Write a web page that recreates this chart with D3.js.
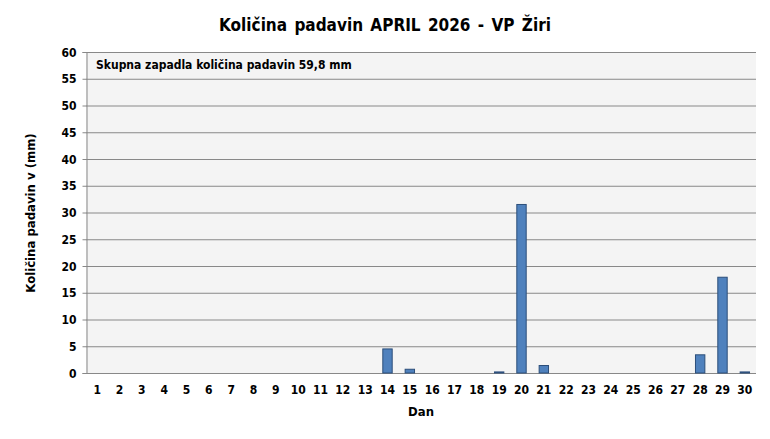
<!DOCTYPE html>
<html><head><meta charset="utf-8">
<script src="https://cdn.jsdelivr.net/npm/d3@7"></script>
<style>body{margin:0;background:#fff}svg{display:block}text{font-family:"DejaVu Sans Condensed","DejaVu Sans",sans-serif;font-weight:bold;fill:#000}</style>
</head><body><svg id="c" width="770" height="439"></svg>
<script>
const days = d3.range(1,31).map(String);
const rain = [0,0,0,0,0,0,0,0,0,0,0,0,0,4.5,0.7,0,0,0,0.2,31.5,1.4,0,0,0,0,0,0,3.4,17.9,0.2];
const yTicks = [0,5,10,15,20,25,30,35,40,45,50,55,60];
const title = "Količina padavin APRIL 2026 - VP Žiri";
const note = "Skupna zapadla količina padavin 59,8 mm";
const xTitle = "Dan", yTitle = "Količina padavin v  (mm)";

const svg = d3.select("#c");
const m = {l:86, r:756, t:52, b:373};
const x = d3.scaleBand().domain(days).range([m.l,m.r]).paddingInner(0.58).paddingOuter(0.29);
const y = d3.scaleLinear().domain([0,60]).range([m.b,m.t]);

svg.append("rect").attr("x",m.l).attr("y",m.t).attr("width",m.r-m.l).attr("height",m.b-m.t).attr("fill","#f4f4f4");
svg.append("g").selectAll("line").data(yTicks).join("line")
  .attr("x1",m.l).attr("x2",m.r).attr("y1",d=>y(d)+0.5).attr("y2",d=>y(d)+0.5)
  .attr("stroke","#888").attr("stroke-width",1);
const ya = svg.append("g").attr("transform",`translate(${m.l+0.5},0)`)
  .call(d3.axisLeft(y).tickValues(yTicks).tickSize(4).tickPadding(6));
ya.select(".domain").attr("stroke","#888");
ya.selectAll(".tick line").attr("stroke","#888");
ya.selectAll("text").style("font-size","12px").attr("dy","0.35em");

const xa = svg.append("g").attr("transform",`translate(0,${m.b})`)
  .call(d3.axisBottom(x).tickSize(0).tickPadding(12));
xa.select(".domain").remove();
xa.selectAll("text").style("font-size","12px");

svg.append("g").selectAll("rect").data(rain.map((v,i)=>({d:days[i],v}))).join("rect")
  .filter(d=>d.v>0)
  .attr("x",d=>x(d.d)).attr("width",x.bandwidth())
  .attr("y",d=>y(d.v)).attr("height",d=>y(0)-y(d.v))
  .attr("fill","#4f81bd").attr("stroke","#2c4e7a").attr("stroke-width",1);

svg.append("text").attr("x",385).attr("y",31).attr("text-anchor","middle").style("font-size","17px").style("word-spacing","2px").text(title);
svg.append("text").attr("x",96).attr("y",69).style("font-size","12px").text(note);
svg.append("text").attr("x",421).attr("y",416).attr("text-anchor","middle").style("font-size","13px").text(xTitle);
svg.append("text").attr("transform","translate(35,213) rotate(-90)").attr("text-anchor","middle").style("font-size","13px").text(yTitle);
</script></body></html>
